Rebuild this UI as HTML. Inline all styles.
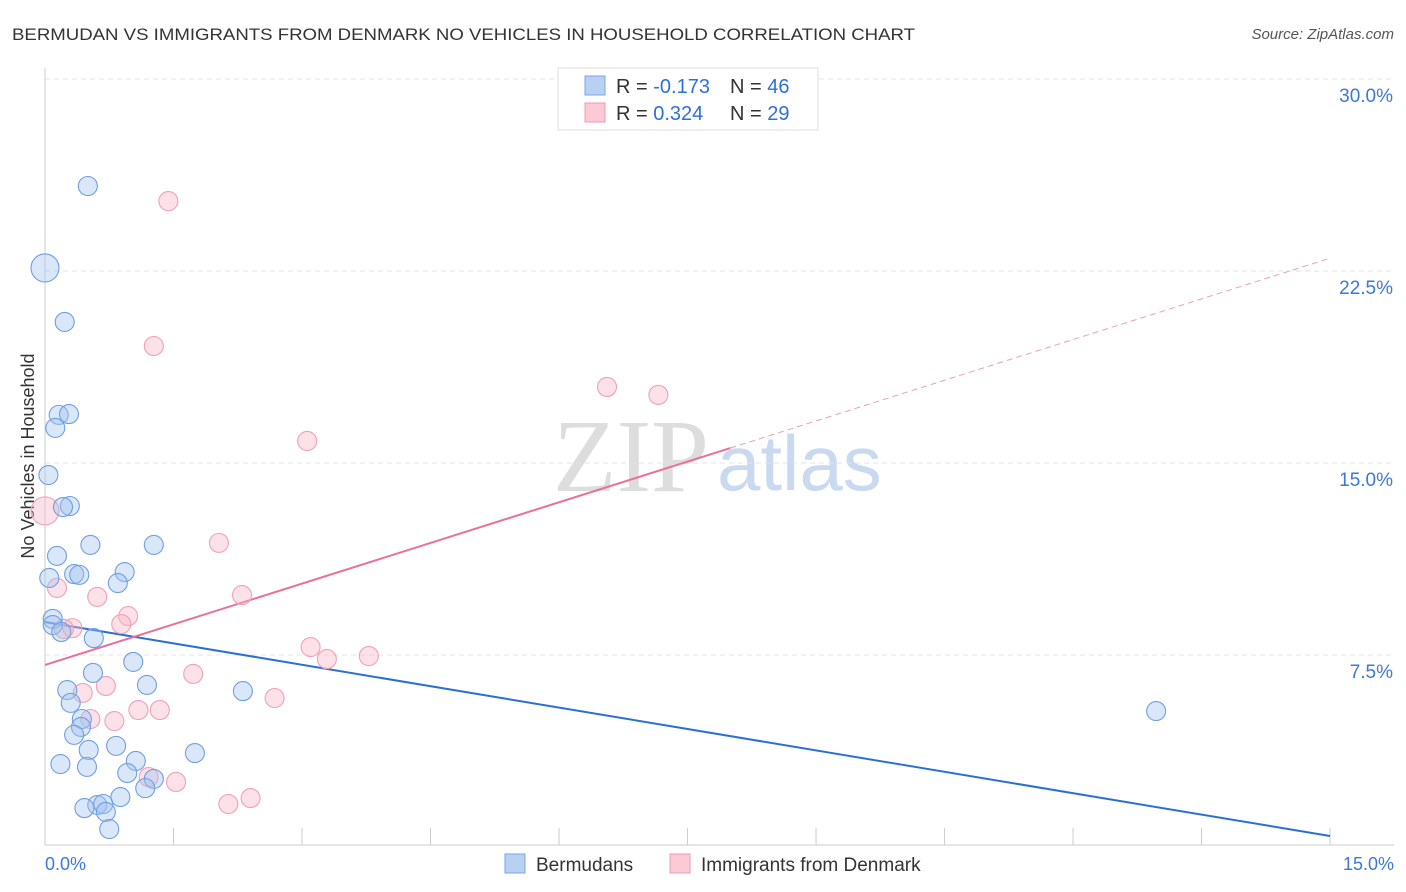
<!DOCTYPE html>
<html><head><meta charset="utf-8"><style>
body{margin:0;background:#fff;font-family:"Liberation Sans",sans-serif;}
</style></head><body>
<svg id="chart" width="1406" height="892" style="display:block">
<text x="12" y="40" font-size="17" fill="#333" textLength="903" lengthAdjust="spacingAndGlyphs">BERMUDAN VS IMMIGRANTS FROM DENMARK NO VEHICLES IN HOUSEHOLD CORRELATION CHART</text>
<text x="1394" y="39" font-size="15" fill="#555" font-style="italic" text-anchor="end">Source: ZipAtlas.com</text>
<text transform="translate(34,456) rotate(-90)" font-size="18" fill="#333" text-anchor="middle">No Vehicles in Household</text>
<text x="553" y="491" font-size="104" fill="#ddd" font-family="Liberation Serif,serif">ZIP</text>
<text x="717" y="490" font-size="78" fill="#c9d9f0">atlas</text>
<g id="grid"></g><g id="axes"></g><g id="lines"></g><g id="pts"></g>
<g>
<rect x="558" y="68" width="260" height="62" fill="#fff" stroke="#ddd"/>
<rect x="585" y="76" width="20" height="19" fill="#b8d1f3" stroke="#7aa6e6"/>
<rect x="585" y="103" width="20" height="19" fill="#fcc9d6" stroke="#f09ab2"/>
<text x="616" y="93" font-size="20" fill="#333">R = <tspan fill="#2f6fd6">-0.173</tspan></text>
<text x="730" y="93" font-size="20" fill="#333">N = <tspan fill="#2f6fd6">46</tspan></text>
<text x="616" y="120" font-size="20" fill="#333">R = <tspan fill="#2f6fd6"> 0.324</tspan></text>
<text x="730" y="120" font-size="20" fill="#333">N = <tspan fill="#2f6fd6">29</tspan></text>
</g>
<g>
<rect x="505" y="854" width="20" height="19" fill="#b8d1f3" stroke="#7aa6e6"/>
<text x="536" y="871" font-size="19" fill="#333">Bermudans</text>
<rect x="670" y="854" width="20" height="19" fill="#fcc9d6" stroke="#f09ab2"/>
<text x="701" y="871" font-size="19" fill="#333">Immigrants from Denmark</text>
</g>
</svg>
<script>
const yTicks=[7.5,15,22.5,30];
const yTickLabels=["7.5%","15.0%","22.5%","30.0%"];
const xTickLabels=["0.0%","15.0%"];
const blueX=[0.50,0.00,0.23,0.16,0.28,0.12,0.04,0.29,0.21,0.53,1.27,0.14,0.05,0.34,0.40,0.93,0.85,0.09,0.09,0.19,0.57,1.03,0.56,1.19,0.26,2.31,0.30,0.43,0.42,0.34,0.51,0.83,0.18,0.49,1.06,1.75,0.96,1.27,1.17,0.88,0.61,0.46,0.68,0.71,0.75,12.97];
const blueY=[25.82,22.62,20.51,16.88,16.91,16.37,14.53,13.32,13.28,11.80,11.80,11.37,10.51,10.66,10.63,10.74,10.31,8.91,8.67,8.40,8.16,7.23,6.80,6.33,6.13,6.09,5.63,5.00,4.69,4.38,3.79,3.95,3.24,3.13,3.36,3.67,2.89,2.66,2.30,1.95,1.64,1.52,1.68,1.37,0.70,5.31];
const pinkX=[1.44,1.27,6.56,7.16,3.06,0.0,2.03,0.14,0.61,2.30,0.97,0.89,0.32,0.22,3.10,3.29,3.78,1.73,0.71,0.44,2.68,0.53,0.81,1.09,1.34,1.21,1.53,2.14,2.40];
const pinkY=[25.23,19.57,17.97,17.66,15.86,13.13,11.88,10.12,9.77,9.84,9.02,8.71,8.55,8.52,7.81,7.34,7.46,6.76,6.29,6.02,5.82,5.00,4.92,5.35,5.35,2.73,2.54,1.68,1.91];
const blueTrend=[8.79,0.43];
const pinkTrend=[7.11,23.0];
const pinkSolidEnd=8.0;
const NS="http://www.w3.org/2000/svg";
const sx=v=>45+v*85.67, sy=v=>847-v*25.6;
function mk(p,t,a){const e=document.createElementNS(NS,t);for(const k in a)e.setAttribute(k,a[k]);document.getElementById(p).appendChild(e);return e;}
yTicks.forEach((t,i)=>{
 const g=mk('grid','line',{x1:45,x2:1394,y1:sy(t),y2:sy(t),stroke:'#e3e3e3','stroke-dasharray':'5,4'});
 
 
 const l=mk('grid','text',{x:1393,y:sy(t)+23,'font-size':19,fill:'#3b78d8','text-anchor':'end'});l.textContent=yTickLabels[i];
 
 
});
mk('axes','line',{x1:45,x2:45,y1:68,y2:845,stroke:'#ccc'});
mk('axes','line',{x1:45,x2:1394,y1:845,y2:845,stroke:'#ccc'});
for(let i=1;i<=10;i++){const t=mk('axes','line',{x1:sx(i*1.5),x2:sx(i*1.5),y1:828,y2:845,stroke:'#ccc'});
 
 }
let a=mk('axes','text',{x:45,y:870,'font-size':18,fill:'#3b78d8'});a.textContent=xTickLabels[0];


a=mk('axes','text',{x:1394,y:870,'font-size':18,fill:'#3b78d8','text-anchor':'end'});a.textContent=xTickLabels[1];


const pt=v=>pinkTrend[0]+(pinkTrend[1]-pinkTrend[0])*v/15;
let ln=mk('lines','line',{x1:sx(0),y1:sy(blueTrend[0]),x2:sx(15),y2:sy(blueTrend[1]),stroke:'#2a6fd6','stroke-width':2});


ln=mk('lines','line',{x1:sx(0),y1:sy(pt(0)),x2:sx(pinkSolidEnd),y2:sy(pt(pinkSolidEnd)),stroke:'#e8709a','stroke-width':2});


ln=mk('lines','line',{x1:sx(pinkSolidEnd),y1:sy(pt(pinkSolidEnd)),x2:sx(15),y2:sy(pt(15)),stroke:'#e8a0b8','stroke-width':1,'stroke-dasharray':'6,4'});


function dots(X,Y,fill,stroke,name,big){X.forEach((x,i)=>{
 const r=(i===big)?14:9.5;
 const c=mk('pts','circle',{cx:sx(x),cy:sy(Y[i]),r:r,fill:fill,stroke:stroke,'stroke-width':1.1});
 
 });}
dots(pinkX,pinkY,'rgba(248,180,200,0.4)','#f0a0b8','denmark-point',5);
dots(blueX,blueY,'rgba(160,195,240,0.4)','#6f9fe0','bermudans-point',1);
</script>
</body></html>
